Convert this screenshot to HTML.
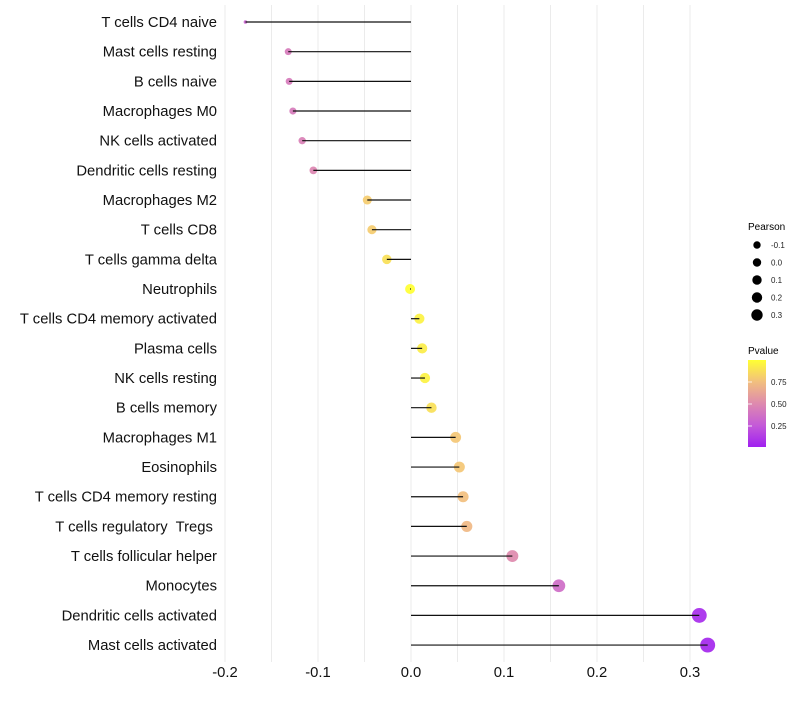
<!DOCTYPE html>
<html><head><meta charset="utf-8"><style>
body{margin:0;background:#fff;font-family:"Liberation Sans",sans-serif}
svg text{font-family:"Liberation Sans",sans-serif;white-space:pre}
</style></head><body>
<svg id="chart" width="800" height="700">
<g id="grid"></g>
<g id="dots"></g>
<g id="marks"></g>
<g id="ylabels"></g>
<g id="xlabels"></g>
<g id="sizeLegend">
<text x="748" y="230" font-size="10">Pearson</text>
</g>
<g id="colorLegend">
<defs><linearGradient id="pg" x1="0" y1="1" x2="0" y2="0">
<stop offset="0" stop-color="#A020F0"/><stop offset="0.25" stop-color="#C45AD8"/><stop offset="0.5" stop-color="#DE8AAE"/><stop offset="0.75" stop-color="#F2BF7E"/><stop offset="1" stop-color="#FFFF33"/></linearGradient></defs>
<text x="748" y="354" font-size="10">Pvalue</text>
<rect x="748" y="360" width="18" height="87" fill="url(#pg)"/>
</g>
</svg>
<script>
const categories=["T cells CD4 naive","Mast cells resting","B cells naive","Macrophages M0","NK cells activated","Dendritic cells resting","Macrophages M2","T cells CD8","T cells gamma delta","Neutrophils","T cells CD4 memory activated","Plasma cells","NK cells resting","B cells memory","Macrophages M1","Eosinophils","T cells CD4 memory resting","T cells regulatory  Tregs ","T cells follicular helper","Monocytes","Dendritic cells activated","Mast cells activated"];
const pearson=[-0.178,-0.132,-0.131,-0.127,-0.117,-0.105,-0.047,-0.042,-0.026,-0.001,0.009,0.012,0.015,0.022,0.048,0.052,0.056,0.060,0.109,0.159,0.310,0.319];
const pvalue=[0.3,0.42,0.42,0.42,0.45,0.48,0.8,0.8,0.88,1.0,0.95,0.93,0.95,0.88,0.78,0.78,0.75,0.72,0.5,0.35,0.05,0.03];
const xTicks=[-0.2,-0.1,0.0,0.1,0.2,0.3];
const xTickLabels=["-0.2","-0.1","0.0","0.1","0.2","0.3"];
const sizeBreaks=[-0.1,0.0,0.1,0.2,0.3];
const pBreaks=[0.25,0.5,0.75];
const NS="http://www.w3.org/2000/svg";
const x=v=>411+v*930;
const y=i=>22+i*29.67;
const r=v=>v<-0.16?1.8:Math.sqrt(Math.max(3,25+97*v));
const lr=v=>4.2+v*5;
const stops=[[0,[160,32,240]],[0.25,[196,90,216]],[0.5,[222,138,174]],[0.75,[242,191,126]],[1,[255,255,51]]];
function col(p){for(let k=1;k<stops.length;k++){if(p<=stops[k][0]){const a=stops[k-1],b=stops[k],t=(p-a[0])/(b[0]-a[0]);return "rgb("+a[1].map((c,j)=>Math.round(c+(b[1][j]-c)*t)).join(",")+")";}}return "rgb(255,255,51)";}
function mk(tag,attrs,parent){const e=document.createElementNS(NS,tag);for(const k in attrs)e.setAttribute(k,attrs[k]);document.getElementById(parent).appendChild(e);return e;}
for(let k=0;k<=10;k++){const v=-0.2+k*0.05;const gl=mk("line",{x1:x(v),x2:x(v),y1:5,y2:662,stroke:"#ebebeb","stroke-width":1},"grid");

}
xTicks.forEach((v,i)=>{const t=mk("text",{x:x(v),y:677,"font-size":14.8,"text-anchor":"middle",fill:"#111"},"xlabels");t.textContent=xTickLabels[i];

});
categories.forEach((c,i)=>{
const t=mk("text",{x:217,y:y(i)+5,"font-size":14.8,"text-anchor":"end",fill:"#111"},"ylabels");t.textContent=c;


const d=mk("circle",{cx:x(pearson[i]),cy:y(i),r:r(pearson[i]),fill:col(pvalue[i]),"fill-opacity":0.92},"dots");


const l=mk("line",{x1:x(0),x2:x(pearson[i]),y1:y(i),y2:y(i),stroke:"#111","stroke-width":1.2},"marks");


});
sizeBreaks.forEach((v,i)=>{const cy=245+i*17.5;
const c=mk("circle",{cx:757,cy:cy,r:lr(v),fill:"#000"},"sizeLegend");


const t=mk("text",{x:771,y:cy+3,"font-size":8,fill:"#222"},"sizeLegend");t.textContent=v.toFixed(1);

});
pBreaks.forEach(p=>{const yy=448-p*88;
const t=mk("text",{x:771,y:yy+3,"font-size":8,fill:"#222"},"colorLegend");t.textContent=p.toFixed(2);


const tk=mk("line",{x1:748,x2:752,y1:yy,y2:yy,stroke:"#fff","stroke-width":0.8},"colorLegend");

});
</script>
</body></html>
